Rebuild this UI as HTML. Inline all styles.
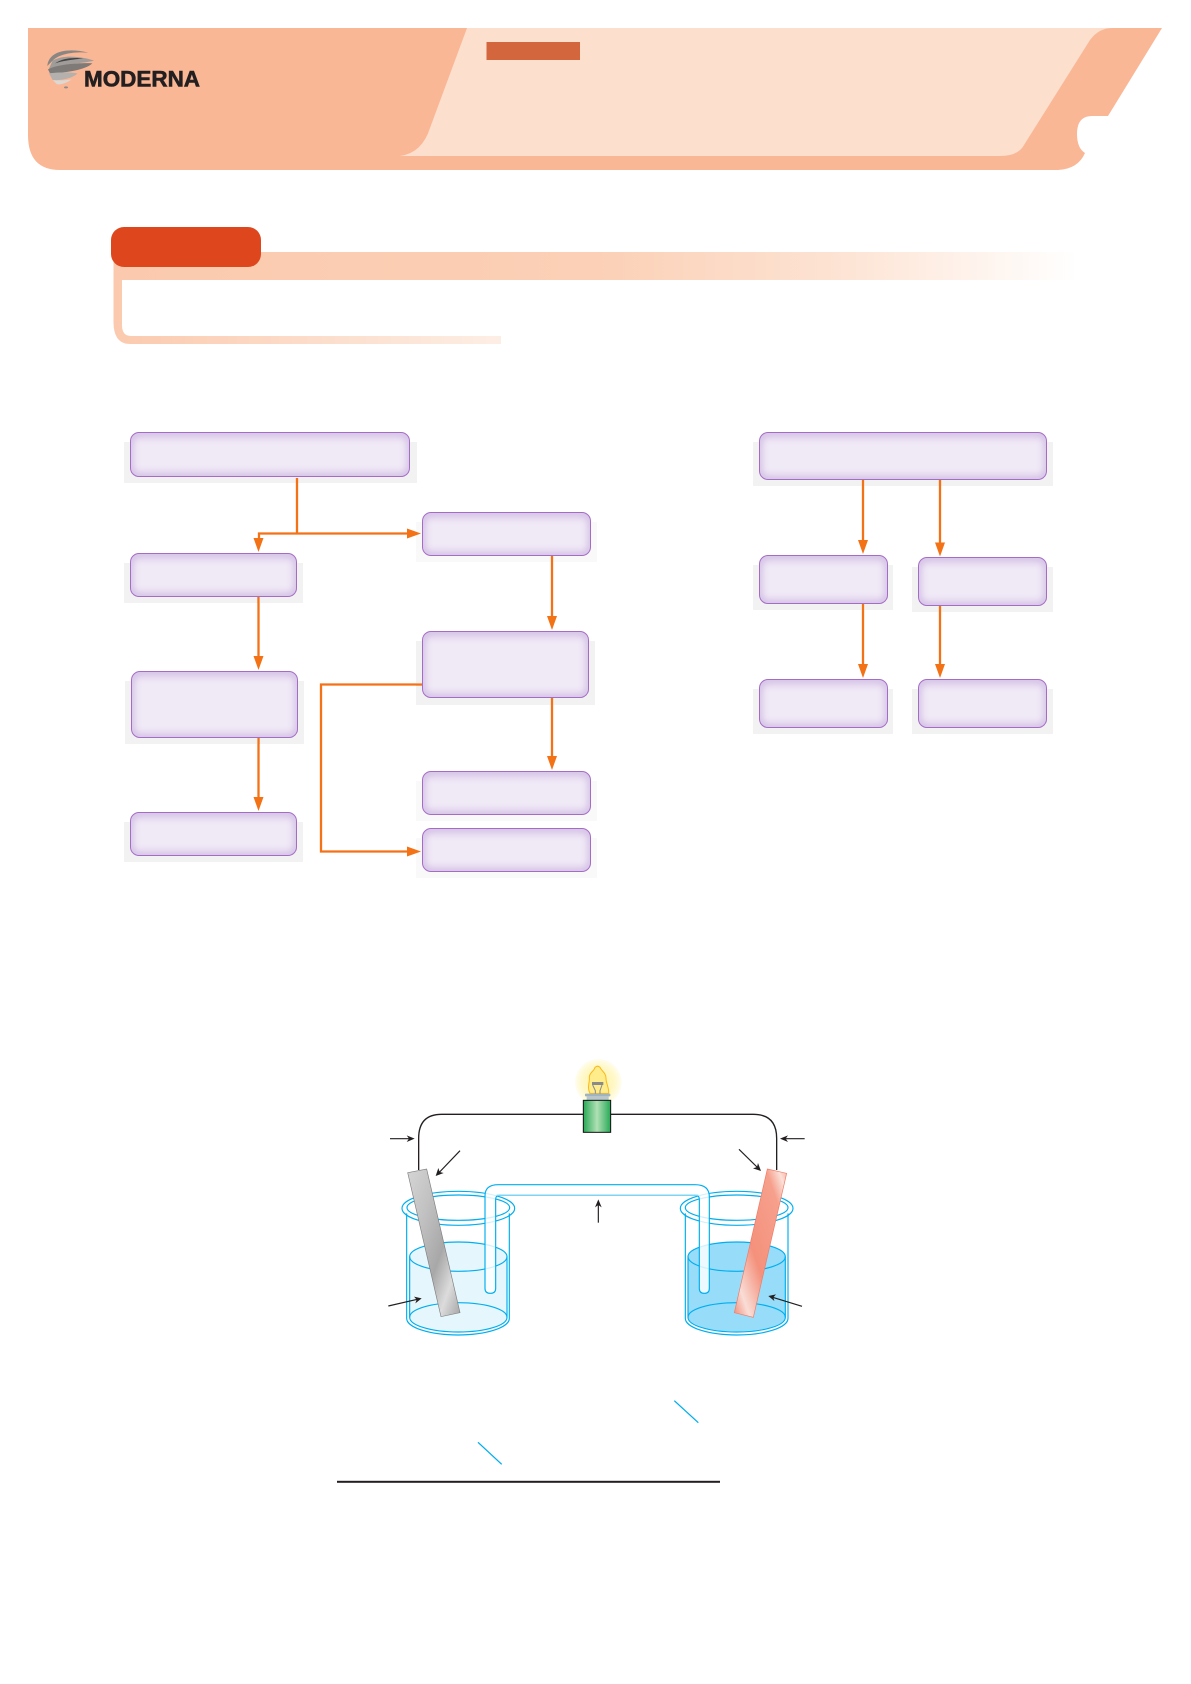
<!DOCTYPE html>
<html lang="en">
<head>
<meta charset="utf-8">
<title>Diagram</title>
<style>
html,body{margin:0;padding:0;background:#fff;}
#page{position:relative;width:1191px;height:1684px;overflow:hidden;background:#fff;}
.s{position:absolute;background-color:#fff;background-image:radial-gradient(#cfcfcf 0.6px,transparent 0.8px);background-size:2px 2px;}
.s.f{opacity:.45;}
.b{position:absolute;box-sizing:border-box;background:#f0e9f6;border:1.8px solid #a56cc6;border-radius:9px;box-shadow:inset 0 7px 7px -2px #d8c6e8,inset 0 -6px 7px -2px #d8c6e8,inset 6px 0 7px -3px #dccdea,inset -6px 0 7px -3px #dccdea;}
svg{position:absolute;left:0;top:0;}
</style>
</head>
<body>
<div id="page">
<div class="s" style="left:124px;top:442px;width:293px;height:41px"></div>
<div class="b" style="left:130px;top:432px;width:280px;height:45px"></div>
<div class="s" style="left:124px;top:563px;width:179px;height:40px"></div>
<div class="b" style="left:130px;top:553px;width:167px;height:44px"></div>
<div class="s" style="left:125px;top:681px;width:179px;height:63px"></div>
<div class="b" style="left:131px;top:671px;width:167px;height:67px"></div>
<div class="s" style="left:124px;top:822px;width:179px;height:40px"></div>
<div class="b" style="left:130px;top:812px;width:167px;height:44px"></div>
<div class="s f" style="left:416px;top:522px;width:181px;height:40px"></div>
<div class="b" style="left:422px;top:512px;width:169px;height:44px"></div>
<div class="s" style="left:416px;top:641px;width:179px;height:64px"></div>
<div class="b" style="left:422px;top:631px;width:167px;height:67px"></div>
<div class="s f" style="left:416px;top:781px;width:181px;height:40px"></div>
<div class="b" style="left:422px;top:771px;width:169px;height:44px"></div>
<div class="s f" style="left:416px;top:838px;width:181px;height:40px"></div>
<div class="b" style="left:422px;top:828px;width:169px;height:44px"></div>
<div class="s" style="left:753px;top:442px;width:300px;height:44px"></div>
<div class="b" style="left:759px;top:432px;width:288px;height:48px"></div>
<div class="s" style="left:753px;top:565px;width:140px;height:45px"></div>
<div class="b" style="left:759px;top:555px;width:128.500px;height:49px"></div>
<div class="s" style="left:912px;top:567px;width:141px;height:45px"></div>
<div class="b" style="left:918px;top:557px;width:129px;height:49px"></div>
<div class="s" style="left:753px;top:689px;width:140px;height:45px"></div>
<div class="b" style="left:759px;top:679px;width:128.500px;height:49px"></div>
<div class="s" style="left:912px;top:689px;width:141px;height:45px"></div>
<div class="b" style="left:918px;top:679px;width:129px;height:49px"></div>

<svg width="1191" height="1684" viewBox="0 0 1191 1684" xmlns="http://www.w3.org/2000/svg">
<defs>
<linearGradient id="band" x1="0" x2="1" y1="0" y2="0">
<stop offset="0" stop-color="#fbcaae"/><stop offset=".5" stop-color="#fbd0b6"/><stop offset=".75" stop-color="#fde3d3"/><stop offset="1" stop-color="#fff"/>
</linearGradient>
<linearGradient id="band2" x1="114" x2="501" y1="0" y2="0" gradientUnits="userSpaceOnUse">
<stop offset="0" stop-color="#fbcaae"/><stop offset="1" stop-color="#fdeee5"/>
</linearGradient>
<radialGradient id="halo"><stop offset="0" stop-color="#fff3a0"/><stop offset=".7" stop-color="#fff8c8"/><stop offset="1" stop-color="#fffdf0"/></radialGradient>
<linearGradient id="green" x1="0" x2="1" y1="0" y2="0">
<stop offset="0" stop-color="#27a956"/><stop offset=".5" stop-color="#b0e0b4"/><stop offset="1" stop-color="#27a956"/>
</linearGradient>
<linearGradient id="gray" x1="0" x2="1" y1="0" y2="1">
<stop offset="0" stop-color="#d5d5d5"/><stop offset=".3" stop-color="#c2c2c2"/><stop offset=".6" stop-color="#a8a8a8"/><stop offset=".8" stop-color="#dcdcdc"/><stop offset="1" stop-color="#a5a5a5"/>
</linearGradient>
<linearGradient id="salmon" x1="1" x2="0" y1="0" y2="1">
<stop offset="0" stop-color="#fbb09f"/><stop offset=".08" stop-color="#fbe0d8"/><stop offset=".2" stop-color="#f6a08c"/><stop offset=".6" stop-color="#f4917c"/><stop offset=".85" stop-color="#f9ddd6"/><stop offset="1" stop-color="#f28a76"/>
</linearGradient>
</defs>

<!-- header -->
<path d="M28,28 H1162 L1108,116 H1092 Q1077,116 1077,134 Q1077,148 1085,153 Q1078,169 1058,170 H60 Q28,170 28,135 Z" fill="#fab795"/>
<path d="M467,28 H1112 Q1099,28 1090,40 L1024,145 Q1018,156 1000,156 H400 Q422,153 430,128 Z" fill="#fcdfcd"/>
<rect x="486.500" y="42" width="93.500" height="18" fill="#d4663e"/>

<!-- logo -->
<g transform="translate(40,40) scale(.33333)">
<path d="M22,78 C25,40 70,20 145,38 C105,35 60,40 38,62 Z" fill="#8a8683"/>
<path d="M38,62 C70,42 130,50 162,62 C125,72 75,68 26,88 Z" fill="#a09c99"/>
<path d="M45,70 C70,52 110,52 130,56 C100,58 70,62 45,70 Z" fill="#444"/>
<path d="M24,88 C55,72 125,68 157,70 C135,90 80,98 30,100 Z" fill="#7d7a78"/>
<path d="M27,100 C50,98 80,95 112,100 C100,115 60,122 38,120 Z" fill="#b4b0ad"/>
<path d="M38,120 C60,123 80,120 95,118 C80,130 55,136 50,132 Z" fill="#dcd8d4"/>
<ellipse cx="78" cy="142" rx="6" ry="3" fill="#8f8b89"/>
</g>
<text x="84" y="86.500" font-family="'Liberation Sans',sans-serif" font-weight="700" font-size="22" fill="#231f20" stroke="#231f20" stroke-width=".6" textLength="116" lengthAdjust="spacingAndGlyphs">MODERNA</text>

<!-- section title -->
<rect x="113.500" y="252" width="964" height="28" fill="url(#band)"/>
<path d="M113.500,280 H122 V325 Q122,336 131,336 H501 V344 H130 Q113.500,344 113.500,322 Z" fill="url(#band2)"/>
<rect x="111" y="227" width="150" height="40" rx="13" ry="13" fill="#de471e"/>

<!-- flow arrows -->
<g fill="none" stroke="#f47216" stroke-width="2.300">
<path d="M297,478 V533"/>
<path d="M259,541 V533.500 H408"/>
<path d="M258.500,597 V658"/>
<path d="M258.500,738 V799"/>
<path d="M552,556 V618"/>
<path d="M552,698 V758"/>
<path d="M422,684.500 H321 V851.500 H408"/>
<path d="M863,480 V542"/>
<path d="M940,480 V544"/>
<path d="M863,604 V666"/>
<path d="M940,606 V666"/>
</g>
<g fill="#f47216">
<path d="M258.500,552 L253.500,538 H263.500 Z"/>
<path d="M421,533.500 L407,528.500 V538.500 Z"/>
<path d="M258.500,670 L253.500,656 H263.500 Z"/>
<path d="M258.500,811 L253.500,797 H263.500 Z"/>
<path d="M552,630 L547,616 H557 Z"/>
<path d="M552,770 L547,756 H557 Z"/>
<path d="M421,851.500 L407,846.500 V856.500 Z"/>
<path d="M863,554 L858,540 H868 Z"/>
<path d="M940,556.500 L935,542.500 H945 Z"/>
<path d="M863,678 L858,664 H868 Z"/>
<path d="M940,678 L935,664 H945 Z"/>
</g>

<!-- cell diagram -->
<g transform="translate(370,1050) scale(.33333)">
<circle cx="685" cy="97" r="70" fill="url(#halo)"/>
<path d="M660,130 C650,112 660,98 658,80 C660,66 672,64 675,52 Q683,45 690,52 C695,64 708,68 708,85 C708,100 718,115 716,130 Z" fill="#ffec8b" stroke="#f9b81a" stroke-width="3"/>
<rect x="666" y="96" width="34" height="9" fill="#8a8a8a"/>
<path d="M668,105 L676,122 V132 M696,105 L690,122 V132" fill="none" stroke="#8a8a8a" stroke-width="3"/>
<rect x="645" y="131" width="76" height="8" rx="2" fill="#9fb4be"/>
<rect x="650" y="139" width="66" height="12" fill="#b9c6cc"/>

<path d="M146,360 V265 Q146,193 215,193 H640 M722,193 H1150 Q1220,193 1220,265 V360" fill="none" stroke="#231f20" stroke-width="4"/>
<rect x="640" y="151" width="82" height="96" fill="url(#green)" stroke="#111" stroke-width="3"/>

<!-- left beaker -->
<path d="M119,620 V800 A146,44 0 0 0 411,800 V620 A146,44 0 0 0 119,620 Z" fill="#e6f6fd"/>
<g fill="none" stroke="#00aeef" stroke-width="3.500">
<ellipse cx="265" cy="620" rx="146" ry="44"/>
<ellipse cx="265" cy="802" rx="146" ry="44"/>
<path d="M119,620 V802 M411,620 V802"/>
<path d="M110,490 V805 A154,50 0 0 0 418,805 V490"/>
<ellipse cx="265" cy="475" rx="169" ry="51"/>
<ellipse cx="265" cy="473" rx="154" ry="38"/>
</g>
<!-- right beaker -->
<path d="M954,620 V800 A146,44 0 0 0 1246,800 V620 A146,44 0 0 0 954,620 Z" fill="#97dcf8"/>
<g fill="none" stroke="#00aeef" stroke-width="3.500">
<ellipse cx="1100" cy="620" rx="146" ry="44"/>
<ellipse cx="1100" cy="802" rx="146" ry="44"/>
<path d="M954,620 V802 M1246,620 V802"/>
<path d="M946,490 V805 A154,50 0 0 0 1254,805 V490"/>
<ellipse cx="1100" cy="475" rx="169" ry="51"/>
<ellipse cx="1100" cy="473" rx="154" ry="38"/>
</g>
<!-- salt bridge -->
<path d="M345,715 V437 Q345,404 385,404 H975 Q1018,404 1018,440 V715 Q1018,730 1003,730 Q988,730 988,715 V447 Q988,436 975,436 H390 Q377,436 377,447 V715 Q377,730 361,730 Q345,730 345,715 Z" fill="#fff" fill-opacity=".82" stroke="#00aeef" stroke-width="3.500"/>
<path d="M380,436 H985" stroke="#7fd4f4" stroke-width="4" fill="none"/>
<!-- electrodes -->
<path d="M113,368 L170,357 L270,788 L213,800 Z" fill="url(#gray)" stroke="#808080" stroke-width="2"/>
<path d="M1192,357 L1250,370 L1150,802 L1093,788 Z" fill="url(#salmon)" stroke="#f07a66" stroke-width="2"/>
<!-- label arrows -->
<g stroke="#231f20" stroke-width="3.500" fill="none">
<path d="M60,266 H122"/>
<path d="M1304,266 H1242"/>
<path d="M270,302 L206,369"/>
<path d="M1107,298 L1164,354"/>
<path d="M55,768 L142,748"/>
<path d="M1296,769 L1208,742"/>
<path d="M685,518 V462"/>
</g>
<g fill="#231f20">
<path d="M134,266 L110,256 L117,266 L110,276 Z"/>
<path d="M1230,266 L1254,256 L1247,266 L1254,276 Z"/>
<path d="M197,378 L205,354 L209,366 L221,369 Z"/>
<path d="M1173,363 L1149,355 L1161,351 L1164,339 Z"/>
<path d="M155,745 L132,740 L140,749 L136,760 Z"/>
<path d="M1195,738 L1218,733 L1210,742 L1213,753 Z"/>
<path d="M685,448 L675,472 L685,465 L695,472 Z"/>
</g>
</g>

<!-- cancellation strokes and fraction line -->
<path d="M674.300,1400.700 L698.300,1422.700" stroke="#00aeef" stroke-width="1.300" fill="none"/>
<path d="M478,1442.300 L501.700,1464.300" stroke="#00aeef" stroke-width="1.300" fill="none"/>
<rect x="337" y="1480.800" width="383" height="2" fill="#231f20"/>
</svg>
</div>
</body>
</html>
